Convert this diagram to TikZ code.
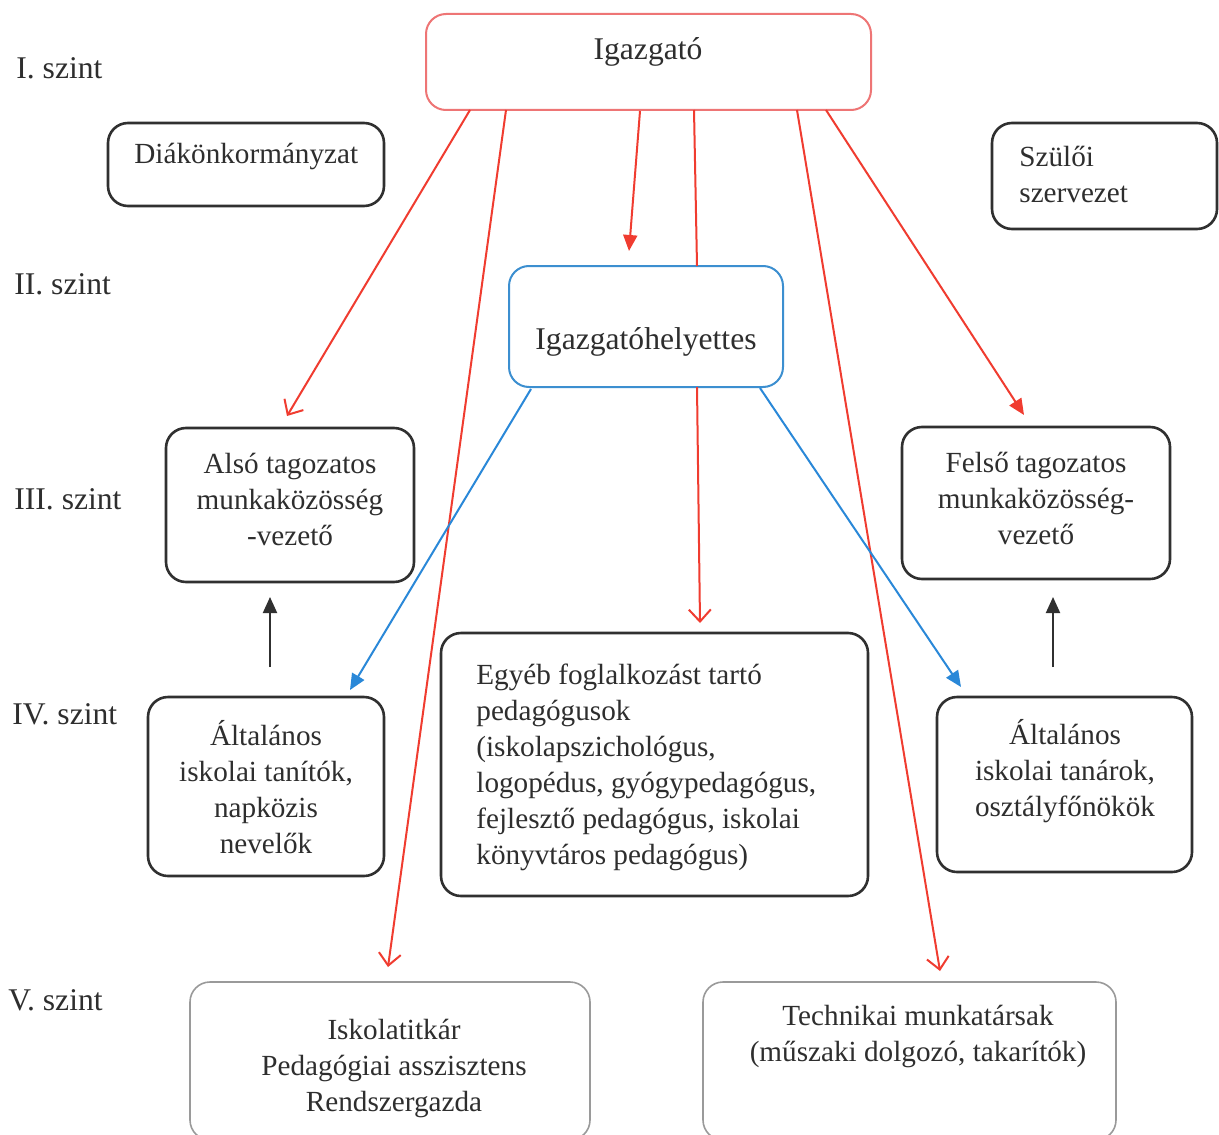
\documentclass[tikz,border=0pt]{standalone}
\usepackage{fontspec}
\setmainfont{Liberation Serif}
\usetikzlibrary{fit,arrows.meta}
\definecolor{redln}{HTML}{F03C30}
\definecolor{redbox}{HTML}{EE7575}
\definecolor{bluebox}{HTML}{3C8FD0}
\definecolor{blueln}{HTML}{2A88D8}
\definecolor{boxgray}{HTML}{303030}
\definecolor{lightbox}{HTML}{9A9A9A}
\definecolor{txt}{HTML}{2E2E2E}
\begin{document}
\begin{tikzpicture}[x=0.5pt,y=-0.5pt,
  box/.style={draw=boxgray, line width=1.3pt, rounded corners=10pt, inner sep=0pt},
  redbx/.style={box, draw=redbox, line width=1pt},
  bluebx/.style={box, draw=bluebox, line width=1pt},
  graybx/.style={box, draw=lightbox, line width=0.8pt},
  lbl/.style={inner sep=0pt, font=\fontsize{14.6}{18}\selectfont, text=txt, align=center},
  biglbl/.style={lbl, font=\fontsize{15.8}{18}\selectfont},
  lvl/.style={biglbl, anchor=west},
  redline/.style={draw=redln, line width=1pt},
  blueline/.style={draw=blueln, line width=1pt},
  blackline/.style={draw=boxgray, line width=1pt},
  openhead/.style={-{Straight Barb[length=6pt,width=11pt]}},
  fillhead/.style={-{Triangle[length=8pt,width=7pt]}}
]
\fill[white] (0,0) rectangle (1219,1134);
\useasboundingbox (0,0) rectangle (1219,1134);
\clip (0,0) rectangle (1219,1134);

% level labels
\node[lvl] (l1) at (16,68) {I. szint};
\node[lvl] (l2) at (14,284) {II. szint};
\node[lvl] (l3) at (14,499) {III. szint};
\node[lvl] (l4) at (12,714) {IV. szint};
\node[lvl] (l5) at (8,1000) {V. szint};

% boxes
\node[redbx, fit={(426,14) (871,110)}] (dir) {};
\node[box, fit={(108,123) (384,206)}] (diak) {};
\node[box, fit={(992,123) (1217,229)}] (szulo) {};
\node[bluebx, fit={(509,266) (783,387)}] (hely) {};
\node[box, fit={(166,428) (414,582)}] (also) {};
\node[box, fit={(902,427) (1170,579)}] (felso) {};
\node[box, fit={(148,697) (384,876)}] (tanito) {};
\node[box, fit={(441,633) (868,896)}] (egyeb) {};
\node[box, fit={(937,697) (1192,872)}] (tanar) {};
\node[graybx, fit={(190,982) (590,1140)}] (titkar) {};
\node[graybx, fit={(703,982) (1116,1140)}] (tech) {};

% texts
\node[biglbl] (dirT) at (648,52) {Igazgató};
\node[lbl, anchor=west] (diakT) at (134,157) {Diákönkormányzat};
\node[lbl, anchor=west, align=left] (szuloT) at (1019,174) {Szülői\\szervezet};
\node[biglbl] (helyT) at (646,342) {Igazgatóhelyettes};
\node[lbl] (alsoT) at (290,499) {Alsó tagozatos\\munkaközösség\\-vezető};
\node[lbl] (felsoT) at (1036,498) {Felső tagozatos\\munkaközösség-\\vezető};
\node[lbl] (tanitoT) at (266,787) {Általános\\iskolai tanítók,\\napközis\\nevelők};
\node[lbl, anchor=west, align=left] (egyebT) at (476,767) {Egyéb foglalkozást tartó\\pedagógusok\\(iskolapszichológus,\\logopédus, gyógypedagógus,\\fejlesztő pedagógus, iskolai\\könyvtáros pedagógus)};
\node[lbl] (tanarT) at (1065,771) {Általános\\iskolai tanárok,\\osztályfőnökök};
\node[lbl] (titkarT) at (394,1068) {Iskolatitkár\\Pedagógiai asszisztens\\Rendszergazda};
\node[lbl] (techT) at (918,1036) {Technikai munkatársak\\(műszaki dolgozó, takarítók)};

% connector end points
\coordinate (d1) at (470,110);
\coordinate (d2) at (506,110);
\coordinate (d3) at (640,111);
\coordinate (d4) at (694,110);
\coordinate (d5) at (797,110);
\coordinate (d6) at (826,110);
\coordinate (e1) at (287,416);
\coordinate (e2) at (388,967);
\coordinate (e3) at (629,251);
\coordinate (h4top) at (697,266);
\coordinate (h4bot) at (697,387);
\coordinate (e4) at (700,623);
\coordinate (e5) at (940,971);
\coordinate (e6) at (1024,415);
\coordinate (h1) at (531,389);
\coordinate (b1) at (350,690);
\coordinate (h2) at (760,388);
\coordinate (b2) at (961,687);
\coordinate (a1) at (270,667);
\coordinate (a1e) at (270,597);
\coordinate (a2) at (1053,667);
\coordinate (a2e) at (1053,597);

% red connectors
\draw[redline, openhead] (d1) -- (e1);
\draw[redline, openhead] (d2) -- (e2);
\draw[redline, fillhead] (d3) -- (e3);
\draw[redline] (d4) -- (h4top);
\draw[redline, openhead] (h4bot) -- (e4);
\draw[redline, openhead] (d5) -- (e5);
\draw[redline, fillhead] (d6) -- (e6);
% blue connectors
\draw[blueline, fillhead] (h1) -- (b1);
\draw[blueline, fillhead] (h2) -- (b2);
% black connectors
\draw[blackline, fillhead] (a1) -- (a1e);
\draw[blackline, fillhead] (a2) -- (a2e);
\end{tikzpicture}
\end{document}
